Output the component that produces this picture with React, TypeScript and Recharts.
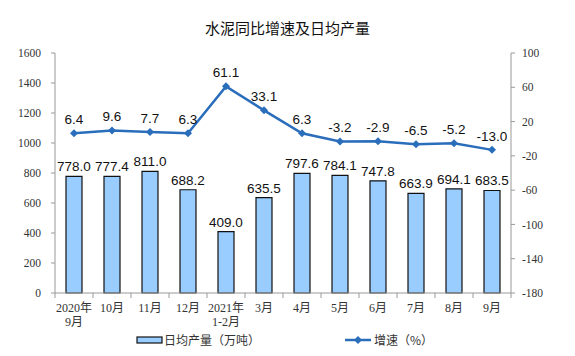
import React from 'react';
import { ComposedChart, Bar, Line, XAxis, YAxis, LabelList } from 'recharts';

const months = ['2020年\n9月', '10月', '11月', '12月', '2021年\n1-2月', '3月', '4月', '5月', '6月', '7月', '8月', '9月'];
const dailyOutput = [778.0, 777.4, 811.0, 688.2, 409.0, 635.5, 797.6, 784.1, 747.8, 663.9, 694.1, 683.5];
const growth = [6.4, 9.6, 7.7, 6.3, 61.1, 33.1, 6.3, -3.2, -2.9, -6.5, -5.2, -13.0];
const leftTicks = [0, 200, 400, 600, 800, 1000, 1200, 1400, 1600];
const rightTicks = [-180, -140, -100, -60, -20, 20, 60, 100];

const data = months.map((m, i) => ({ month: m, output: dailyOutput[i], growth: growth[i] }));

const BLUE = '#2a6ebb';
const BAR = '#99ccff';
const SERIF = '"Liberation Serif", "Times New Roman", "Noto Sans CJK SC", serif';
const SANS = '"Liberation Sans", Arial, sans-serif';
const CJK = '"Noto Sans CJK SC", sans-serif';

const MonthTick = ({ x, y, payload, index }: any) => {
  const lines = String(payload.value).split('\n');
  const half = 19;
  return (
    <g>
      <line x1={x - half} y1={y - 8} x2={x - half} y2={y - 3} stroke="#999" />
      {index === months.length - 1 && <line x1={x + half} y1={y - 8} x2={x + half} y2={y - 3} stroke="#999" />}
      <text x={x} y={y + 11} textAnchor="middle" fontSize={12} fill="#333" fontFamily={SERIF}>
        {lines.map((l, i) => (
          <tspan key={i} x={x} dy={i === 0 ? 0 : 14}>{l}</tspan>
        ))}
      </text>
    </g>
  );
};

const Diamond = ({ cx, cy }: any) => {
  if (cx == null || cy == null) return null;
  const r = 4;
  return <polygon points={`${cx},${cy - r} ${cx + r},${cy} ${cx},${cy + r} ${cx - r},${cy}`} fill={BLUE} />;
};

export default function App() {
  return (
    <div style={{ position: 'absolute', left: 0, top: 0, width: 575, height: 356, background: '#fff' }}>
      <div style={{ position: 'absolute', top: 17, left: 0, width: 575, textAlign: 'center', fontSize: 15, fontFamily: CJK, color: '#111' }}>
        水泥同比增速及日均产量
      </div>
      <ComposedChart width={575} height={356} data={data} margin={{ top: 53, right: 0, left: 0, bottom: 0 }}>
        <XAxis dataKey="month" height={63} interval={0} tickLine={false} stroke="#999" tick={<MonthTick />} />
        <YAxis
          yAxisId="left"
          width={55}
          domain={[0, 1600]}
          ticks={leftTicks}
          tickSize={4}
          tickMargin={10}
          stroke="#999"
          tick={{ fontSize: 11.5, fill: '#333', fontFamily: SERIF }}
        />
        <YAxis
          yAxisId="right"
          orientation="right"
          width={64}
          domain={[-180, 100]}
          ticks={rightTicks}
          tickSize={4}
          tickMargin={7}
          stroke="#999"
          tick={{ fontSize: 11.5, fill: '#333', fontFamily: SERIF }}
        />
        <Bar yAxisId="left" dataKey="output" fill={BAR} stroke="#111" strokeWidth={1.2} barSize={16} isAnimationActive={false}>
          <LabelList dataKey="output" position="top" offset={5} formatter={(v: any) => Number(v).toFixed(1)} style={{ fontSize: 13.5, fill: '#111', fontFamily: SANS }} />
        </Bar>
        <Line yAxisId="right" dataKey="growth" stroke={BLUE} strokeWidth={2.5} dot={<Diamond />} activeDot={false} isAnimationActive={false}>
          <LabelList dataKey="growth" position="top" offset={9} formatter={(v: any) => Number(v).toFixed(1)} style={{ fontSize: 13.5, fill: '#111', fontFamily: SANS }} />
        </Line>
      </ComposedChart>
      <svg style={{ position: 'absolute', left: 0, top: 328 }} width={575} height={24}>
        <rect x={137} y={9} width={25} height={6} fill={BAR} stroke="#111" strokeWidth={1.2} />
        <text x={164} y={17} fontSize={12} fill="#333" fontFamily={CJK}>日均产量（万吨）</text>
        <line x1={345} y1={12} x2={371} y2={12} stroke={BLUE} strokeWidth={2.5} />
        <polygon points="358,8 362,12 358,16 354,12" fill={BLUE} />
        <text x={374} y={17} fontSize={12} fill="#333" fontFamily={CJK}>增速（%）</text>
      </svg>
    </div>
  );
}
